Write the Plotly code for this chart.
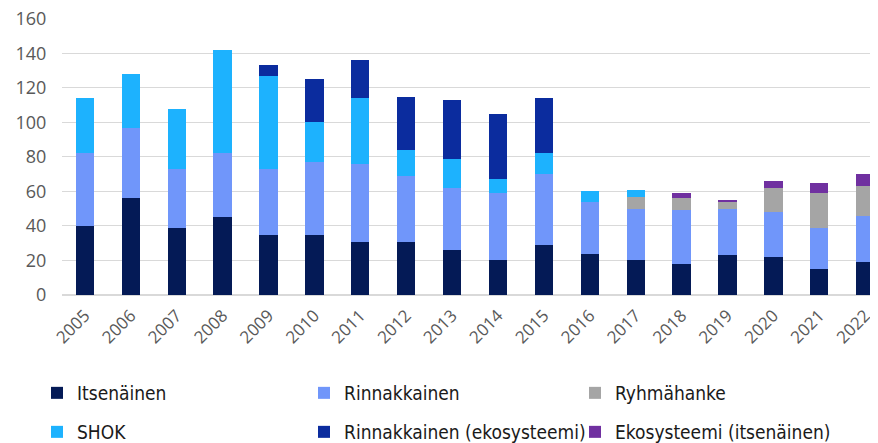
import plotly.graph_objects as go

years = [str(y) for y in range(2005, 2023)]

itsenainen = [40, 56, 39, 45, 35, 35, 31, 31, 26, 20, 29, 24, 20, 18, 23, 22, 15, 19]
rinnakkainen = [42, 41, 34, 37, 38, 42, 45, 38, 36, 39, 41, 30, 30, 31, 27, 26, 24, 27]
ryhmahanke = [0, 0, 0, 0, 0, 0, 0, 0, 0, 0, 0, 0, 7, 7, 4, 14, 20, 17]
shok = [32, 31, 35, 60, 54, 23, 38, 15, 17, 8, 12, 6, 4, 0, 0, 0, 0, 0]
rinn_eko = [0, 0, 0, 0, 6, 25, 22, 31, 34, 38, 32, 0, 0, 0, 0, 0, 0, 0]
eko_its = [0, 0, 0, 0, 0, 0, 0, 0, 0, 0, 0, 0, 0, 3, 1, 4, 6, 7]

names = ["Itsenäinen", "Rinnakkainen", "Ryhmähanke",
         "SHOK", "Rinnakkainen (ekosysteemi)", "Ekosysteemi (itsenäinen)"]
values = [itsenainen, rinnakkainen, ryhmahanke, shok, rinn_eko, eko_its]
colors = ["#041a56", "#7096fa", "#a5a5a5", "#1db2fe", "#0b2c9e", "#7030a0"]

# page body has an 8px margin, so the figure is made 8px smaller
W, H = 870, 435

fig = go.Figure()
layout_legends = {}
leg_font = dict(family="DejaVu Sans Condensed, DejaVu Sans, sans-serif", size=19, color="#1a1a1a")
# one legend per entry, laid out as 3 columns x 2 rows
col_x = [29, 296, 567]
row_y = [385, 424]
for i, (name, vals, col) in enumerate(zip(names, values, colors)):
    key = "legend" if i == 0 else "legend%d" % (i + 1)
    fig.add_trace(go.Bar(x=years, y=vals, name=name, legend=key,
                         marker=dict(color=col, line=dict(width=0))))
    layout_legends[key] = dict(
        xref="container", yref="container",
        x=col_x[i % 3] / W, y=1 - row_y[i // 3] / H,
        xanchor="left", yanchor="middle",
        itemwidth=30,
        bgcolor="rgba(0,0,0,0)",
        font=leg_font,
    )

fig.update_layout(
    barmode="stack",
    bargap=0.6,
    width=W, height=H,
    margin=dict(l=54, r=0, t=10, b=148, autoexpand=False),
    plot_bgcolor="white",
    paper_bgcolor="white",
    showlegend=True,
    xaxis=dict(
        range=[-0.5, 17.28],
        tickangle=-45,
        tickfont=dict(family="Open Sans, sans-serif", size=17, color="#595959"),
        showgrid=False,
        showline=False,
        ticks="outside", ticklen=3, tickcolor="rgba(0,0,0,0)",
    ),
    yaxis=dict(
        range=[0, 160.5],
        tickvals=[0, 20, 40, 60, 80, 100, 120, 140, 160],
        tickfont=dict(family="Open Sans, sans-serif", size=18, color="#595959"),
        ticklabeloverflow="allow",
        gridcolor="#d9d9d9",
        gridwidth=1,
        zeroline=True,
        zerolinecolor="#d9d9d9",
        ticks="outside", ticklen=11, tickcolor="rgba(0,0,0,0)",
    ),
    **layout_legends,
)

fig.write_html("out.html")
